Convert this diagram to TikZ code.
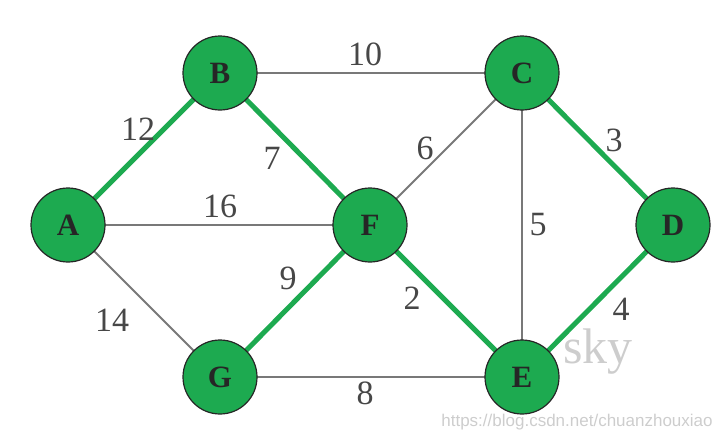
\documentclass[tikz,border=0pt]{standalone}
\usepackage{fontspec}
\setmainfont{Liberation Serif}
\newfontfamily\wmfont{Liberation Sans}
\definecolor{ngreen}{RGB}{29,170,80}
\definecolor{egray}{RGB}{120,120,120}
\definecolor{wmgray}{RGB}{205,205,205}
\begin{document}
\begin{tikzpicture}[x=1pt,y=-1pt,
  vert/.style={circle,draw=black!85,line width=1.2pt,fill=ngreen,minimum size=74pt,inner sep=0pt,
    font=\fontsize{31}{31}\selectfont\bfseries,text=black!85},
  plain/.style={draw=egray,line width=2pt},
  tree/.style={draw=ngreen,line width=5pt},
  wt/.style={font=\fontsize{34}{34}\selectfont,text=black!72,inner sep=1pt}]
\useasboundingbox (0,0) rectangle (720,440);
\node[font=\fontsize{50}{50}\selectfont,text=wmgray,inner sep=0pt] (wm1) at (598,352) {sky};
\node[font=\wmfont\fontsize{17}{17}\selectfont,text=wmgray] (wm2) at (577,422) {https://blog.csdn.net/chuanzhouxiao};
\coordinate (pA) at (68,225);
\coordinate (pB) at (220,73);
\coordinate (pC) at (522,73);
\coordinate (pD) at (673,225);
\coordinate (pF) at (370,225);
\coordinate (pG) at (220,377);
\coordinate (pE) at (522,377);
\draw[plain] (pB) -- (pC);
\draw[plain] (pA) -- (pF);
\draw[plain] (pA) -- (pG);
\draw[plain] (pF) -- (pC);
\draw[plain] (pC) -- (pE);
\draw[plain] (pG) -- (pE);
\draw[tree] (pA) -- (pB);
\draw[tree] (pB) -- (pF);
\draw[tree] (pC) -- (pD);
\draw[tree] (pD) -- (pE);
\draw[tree] (pF) -- (pG);
\draw[tree] (pF) -- (pE);
\node[vert] (A) at (pA) {A};
\node[vert] (B) at (pB) {B};
\node[vert] (C) at (pC) {C};
\node[vert] (D) at (pD) {D};
\node[vert] (F) at (pF) {F};
\node[vert] (G) at (pG) {G};
\node[vert] (E) at (pE) {E};
\node[wt] (w10) at (365,54) {10};
\node[wt] (w12) at (138,129) {12};
\node[wt] (w7) at (272,158) {7};
\node[wt] (w16) at (220,206) {16};
\node[wt] (w6) at (425,148) {6};
\node[wt] (w3) at (614,140) {3};
\node[wt] (w5) at (538,225) {5};
\node[wt] (w14) at (112,320) {14};
\node[wt] (w9) at (288,278) {9};
\node[wt] (w2) at (412,298) {2};
\node[wt] (w4) at (621,309) {4};
\node[wt] (w8) at (365,393) {8};
\end{tikzpicture}
\end{document}
